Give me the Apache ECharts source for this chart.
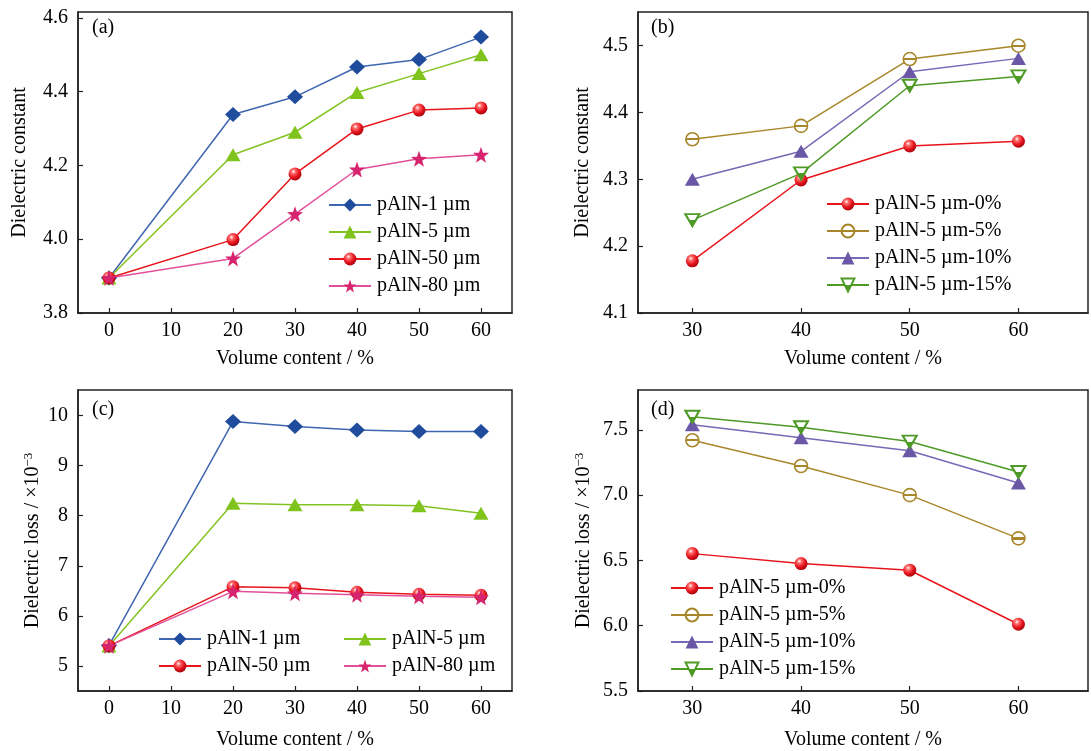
<!DOCTYPE html>
<html>
<head>
<meta charset="utf-8">
<script src="https://cdn.jsdelivr.net/npm/echarts@6/dist/echarts.min.js"></script>
<style>html,body{margin:0;padding:0;background:#fff}#c{width:1091px;height:751px}</style>
</head>
<body>
<div id="c"></div>
<script>
// ---- data ----
const xSize = [0, 20, 30, 40, 50, 60];
const xContent = [30, 40, 50, 60];
const sizeNames = ['pAlN-1 µm', 'pAlN-5 µm', 'pAlN-50 µm', 'pAlN-80 µm'];
const contentNames = ['pAlN-5 µm-0%', 'pAlN-5 µm-5%', 'pAlN-5 µm-10%', 'pAlN-5 µm-15%'];

// (a) dielectric constant vs particle size
const constP1 = [3.895, 4.338, 4.386, 4.467, 4.487, 4.548];
const constP5 = [3.895, 4.229, 4.290, 4.398, 4.449, 4.500];
const constP50 = [3.895, 3.999, 4.177, 4.299, 4.350, 4.356];
const constP80 = [3.895, 3.948, 4.068, 4.189, 4.218, 4.229];
// (b) dielectric constant, pAlN-5 µm with additive content
const constC0 = [4.178, 4.299, 4.350, 4.357];
const constC5 = [4.360, 4.380, 4.480, 4.500];
const constC10 = [4.300, 4.342, 4.461, 4.481];
const constC15 = [4.239, 4.309, 4.440, 4.454];
// (c) dielectric loss vs particle size
const lossP1 = [5.41, 9.88, 9.78, 9.71, 9.68, 9.68];
const lossP5 = [5.40, 8.25, 8.22, 8.22, 8.20, 8.05];
const lossP50 = [5.40, 6.58, 6.56, 6.47, 6.43, 6.41];
const lossP80 = [5.40, 6.49, 6.45, 6.42, 6.39, 6.37];
// (d) dielectric loss, pAlN-5 µm with additive content
const lossC0 = [6.552, 6.476, 6.425, 6.011];
const lossC5 = [7.420, 7.223, 7.000, 6.669];
const lossC10 = [7.538, 7.440, 7.340, 7.093];
const lossC15 = [7.600, 7.520, 7.410, 7.177];

// tick labels
const ticksXSize = [0, 10, 20, 30, 40, 50, 60];
const ticksXContent = [30, 40, 50, 60];
const ticksYa = [3.8, 4.0, 4.2, 4.4, 4.6];
const ticksYb = [4.1, 4.2, 4.3, 4.4, 4.5];
const ticksYc = [5, 6, 7, 8, 9, 10];
const ticksYd = [5.5, 6.0, 6.5, 7.0, 7.5];

// ---- styles ----
const FONT = '"Liberation Serif", "Times New Roman", serif';
const sphere = {
  type: 'radial', x: 0.38, y: 0.32, r: 0.75,
  colorStops: [
    { offset: 0, color: '#ffffff' },
    { offset: 0.22, color: '#ff6a6a' },
    { offset: 0.6, color: '#e3121c' },
    { offset: 1, color: '#9c0008' }
  ]
};
const barCircle = {
  type: 'linear', x: 0, y: 0, x2: 0, y2: 1,
  colorStops: [
    { offset: 0, color: '#ffffff' },
    { offset: 0.44, color: '#ffffff' },
    { offset: 0.44, color: '#a8862a' },
    { offset: 0.58, color: '#a8862a' },
    { offset: 0.58, color: '#ffffff' },
    { offset: 1, color: '#ffffff' }
  ]
};
const halfTri = {
  type: 'linear', x: 0, y: 0, x2: 0, y2: 1,
  colorStops: [
    { offset: 0, color: '#ffffff' },
    { offset: 0.5, color: '#ffffff' },
    { offset: 0.5, color: '#4e9a26' },
    { offset: 1, color: '#4e9a26' }
  ]
};
const starPath = 'path://M10,0L12.35,6.76L19.51,6.91L13.8,11.24L15.88,18.09L10,14L4.12,18.09L6.2,11.24L0.49,6.91L7.65,6.76Z';
const downTriPath = 'path://M0,0L20,0L10,17Z';

const sizeStyles = [
  { symbol: 'diamond', symbolSize: [16, 15], line: '#3f66b0', item: { color: '#1f4c9c' } },
  { symbol: 'triangle', symbolSize: [15, 13], line: '#82c322', item: { color: '#80c31c' } },
  { symbol: 'circle', symbolSize: 13, line: '#e8141c', item: { color: sphere } },
  { symbol: starPath, symbolSize: 16, line: '#e2509a', item: { color: '#d6246e' } }
];
const contentStyles = [
  { symbol: 'circle', symbolSize: 13, line: '#e8141c', item: { color: sphere } },
  { symbol: 'circle', symbolSize: 13, line: '#a8862a', item: { color: barCircle, borderColor: '#a8862a', borderWidth: 1.6 } },
  { symbol: 'triangle', symbolSize: [15, 13], line: '#7868b6', item: { color: '#6a58a6' } },
  { symbol: downTriPath, symbolSize: [14, 12], line: '#4e9a26', item: { color: halfTri, borderColor: '#4e9a26', borderWidth: 2 } }
];

function mkSeries(names, styles, dataArr, xs, idx) {
  return names.map((n, i) => ({
    name: n, type: 'line', xAxisIndex: idx, yAxisIndex: idx,
    data: xs.map((x, k) => [x, dataArr[i][k]]),
    symbol: styles[i].symbol, symbolSize: styles[i].symbolSize,
    lineStyle: { color: styles[i].line, width: 1.5 },
    itemStyle: styles[i].item,
    emphasis: { disabled: true },
    animation: false
  }));
}

const grids = [
  { left: 78, top: 12, width: 434, height: 301 },
  { left: 638, top: 12, width: 450, height: 301 },
  { left: 78, top: 390, width: 434, height: 302 },
  { left: 638, top: 390, width: 450, height: 302 }
].map(g => Object.assign(g, { show: true, borderColor: '#222', borderWidth: 1.5, backgroundColor: 'transparent' }));

function xAxis(idx, min, max, ticks, gap) {
  return {
    type: 'value', gridIndex: idx, min: min, max: max,
    name: 'Volume content / %', nameLocation: 'middle', nameGap: gap,
    nameTextStyle: { fontFamily: FONT, fontSize: 20, color: '#000' },
    axisLine: { show: true, onZero: false, lineStyle: { color: '#222', width: 1.5 } },
    axisTick: { show: true, inside: true, length: 5, customValues: ticks, lineStyle: { color: '#222', width: 1.2 } },
    axisLabel: { customValues: ticks, margin: 8, fontFamily: FONT, fontSize: 20, color: '#000' },
    splitLine: { show: false }
  };
}
function yAxis(idx, min, max, ticks, digits, name, gap) {
  return {
    type: 'value', gridIndex: idx, min: min, max: max,
    name: name, nameLocation: 'middle', nameGap: gap,
    nameTextStyle: {
      fontFamily: FONT, fontSize: 20, color: '#000', lineHeight: 22,
      rich: { sup: { fontFamily: FONT, fontSize: 13, color: '#000', verticalAlign: 'top', lineHeight: 22 } }
    },
    axisLine: { show: true, onZero: false, lineStyle: { color: '#222', width: 1.5 } },
    axisTick: { show: true, inside: true, length: 5, customValues: ticks, lineStyle: { color: '#222', width: 1.2 } },
    axisLabel: { customValues: ticks, margin: 10, fontFamily: FONT, fontSize: 20, color: '#000',
      formatter: v => v.toFixed(digits) },
    splitLine: { show: false }
  };
}

function legend(names, left, top) {
  return {
    data: names, orient: 'vertical', left: left, top: top, padding: 0,
    itemWidth: 42, itemHeight: 16, itemGap: 7, selectedMode: false,
    textStyle: { fontFamily: FONT, fontSize: 20, color: '#000', lineHeight: 20, padding: [0, 0, 0, 1] }
  };
}

const option = {
  animation: false,
  backgroundColor: '#fff',
  grid: grids,
  xAxis: [
    xAxis(0, -5, 65, ticksXSize, 36),
    xAxis(1, 25, 66.4, ticksXContent, 36),
    xAxis(2, -5, 65, ticksXSize, 39),
    xAxis(3, 25, 66.4, ticksXContent, 39)
  ],
  yAxis: [
    yAxis(0, 3.8, 4.616, ticksYa, 1, 'Dielectric constant', 47),
    yAxis(1, 4.1, 4.5504, ticksYb, 1, 'Dielectric constant', 44),
    yAxis(2, 4.5, 10.51, ticksYc, 0, 'Dielectric loss / ×10{sup|−3}', 27),
    yAxis(3, 5.5, 7.805, ticksYd, 1, 'Dielectric loss / ×10{sup|−3}', 43)
  ],
  legend: [
    legend(sizeNames, 328, 195),
    legend(contentNames, 826, 194),
    legend([sizeNames[0], sizeNames[2]], 158, 629),
    legend([sizeNames[1], sizeNames[3]], 343, 629),
    legend(contentNames, 670, 578)
  ],
  graphic: [
    { type: 'text', left: 92, top: 18, style: { text: '(a)', font: '20px ' + FONT, fill: '#000' } },
    { type: 'text', left: 651, top: 18, style: { text: '(b)', font: '20px ' + FONT, fill: '#000' } },
    { type: 'text', left: 92, top: 400, style: { text: '(c)', font: '20px ' + FONT, fill: '#000' } },
    { type: 'text', left: 651, top: 400, style: { text: '(d)', font: '20px ' + FONT, fill: '#000' } }
  ],
  series: [].concat(
    mkSeries(sizeNames, sizeStyles, [constP1, constP5, constP50, constP80], xSize, 0),
    mkSeries(contentNames, contentStyles, [constC0, constC5, constC10, constC15], xContent, 1),
    mkSeries(sizeNames, sizeStyles, [lossP1, lossP5, lossP50, lossP80], xSize, 2),
    mkSeries(contentNames, contentStyles, [lossC0, lossC5, lossC10, lossC15], xContent, 3)
  )
};
const chart = echarts.init(document.getElementById('c'), null, { renderer: 'canvas' });
chart.setOption(option);
</script>
</body>
</html>
